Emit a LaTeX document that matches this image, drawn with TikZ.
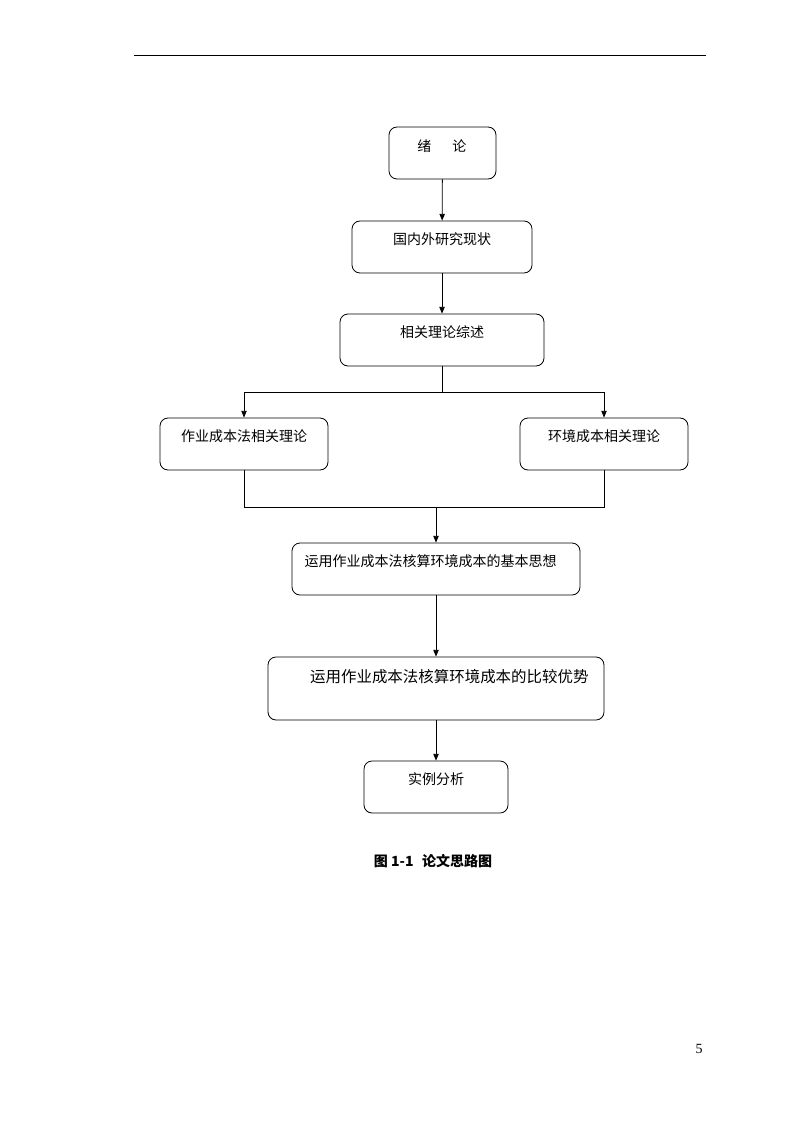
\documentclass[tikz,border=0pt]{standalone}
\usepackage{fontspec}
\setmainfont{Liberation Serif}
\newfontfamily\cjk{Noto Sans CJK SC}
\usetikzlibrary{arrows.meta}

\tikzset{
    kasten/.style={draw, rounded corners=6pt, line width=0.6pt, minimum height=39pt, inner sep=0pt},
    testo/.style={font=\cjk\fontsize{10.5}{12}\selectfont, inner sep=0pt, anchor=north},
    freccia/.style={-{Triangle[length=5pt, width=4pt]}, line width=0.6pt},
    linea/.style={line width=0.6pt}
}

\begin{document}
\begin{tikzpicture}[x=0.75pt, y=-0.75pt]
    % Pagina
    \useasboundingbox (0,0) rectangle (794,1123);
    \draw[line width=0.6pt] (134,55) -- (706,55);

    % Riquadri
    \node[kasten, minimum width=80.25pt] (b1) at (442.5,153) {};
    \node[kasten, minimum width=135pt] (b2) at (442,247) {};
    \node[kasten, minimum width=153pt] (b3) at (442,340) {};
    \node[kasten, minimum width=126pt] (b4) at (244,444) {};
    \node[kasten, minimum width=126pt] (b5) at (604,444) {};
    \node[kasten, minimum width=216pt] (b6) at (436,569) {};
    \node[kasten, minimum width=252pt, minimum height=47.25pt] (b7) at (436,688.5) {};
    \node[kasten, minimum width=108pt] (b8) at (436,787) {};

    % Testi
    \node[testo] (t1) at ([yshift=-9.5pt,xshift=-0.5pt]b1.north) {绪\hspace{1.5em}论};
    \node[testo] (t2) at ([yshift=-9pt]b2.north) {国内外研究现状};
    \node[testo] (t3) at ([yshift=-9pt]b3.north) {相关理论综述};
    \node[testo] (t4) at ([yshift=-9pt]b4.north) {作业成本法相关理论};
    \node[testo] (t5) at ([yshift=-9pt]b5.north) {环境成本相关理论};
    \node[testo] (t6) at ([yshift=-9pt,xshift=-4pt]b6.north) {运用作业成本法核算环境成本的基本思想};
    \node[testo, font=\cjk\fontsize{11.6}{13}\selectfont] (t7) at ([yshift=-9.5pt,xshift=10pt]b7.north) {运用作业成本法核算环境成本的比较优势};
    \node[testo] (t8) at ([yshift=-9pt]b8.north) {实例分析};

    % Frecce
    \draw[freccia] (b1) -- (b2);
    \draw[freccia] (b2) -- (b3);
    \draw[freccia] (b3.south) -- ++(0,26) -| (b4.north);
    \draw[freccia] (b3.south) -- ++(0,26) -| (b5.north);
    \draw[linea] (b4.south) -- ++(0,37) -| (b5.south);
    \coordinate (m) at (436,507);
    \draw[freccia] (m) -- (b6.north);
    \draw[freccia] (b6) -- (b7);
    \draw[freccia] (b7) -- (b8);

    % Didascalia e numero di pagina
    \node[font=\cjk\bfseries\fontsize{10.5}{12}\selectfont] (cap) at (433,861) {图 1-1\hspace{0.6em}论文思路图};
    \node[font=\fontsize{10.5}{12}\selectfont] (pg) at (699,1049) {5};
\end{tikzpicture}
\end{document}
